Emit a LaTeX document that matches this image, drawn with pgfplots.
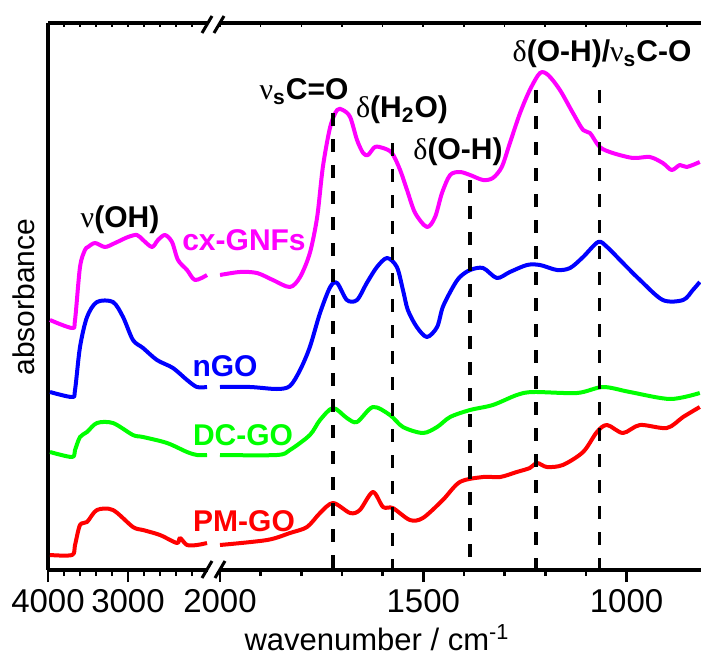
\documentclass[border=0pt]{standalone}
\usepackage{fontspec}
\setmainfont{Liberation Sans}
\newfontfamily\grk{Liberation Serif}
\usepackage{pgfplots}
\pgfplotsset{compat=1.18}

\newcommand{\gdl}{{\grk\mdseries δ}}
\newcommand{\gnu}{{\grk\mdseries ν}}

\definecolor{cmag}{RGB}{255,0,255}
\definecolor{cblu}{RGB}{0,0,255}
\definecolor{cgrn}{RGB}{0,255,0}
\definecolor{cred}{RGB}{255,0,0}

\pgfplotsset{
  ftir/.style={
    scale only axis, height=273.5pt, ymin=0, ymax=547, x dir=reverse,
    ytick=\empty,
    /pgf/number format/assume math mode=true,
    /pgf/number format/1000 sep={},
    ticklabel style={font=\fontsize{16.5}{19}\selectfont},
    axis line style={line width=1.6pt},
    every tick/.style={black, line width=1.3pt},
    major tick length=6pt, minor tick length=3pt,
    axis x line*=bottom, tick align=outside,
    every axis plot/.append style={line width=2pt, line join=round, smooth},
  },
  topticks/.style={
    scale only axis, height=273.5pt, ymin=0, ymax=547, x dir=reverse,
    ytick=\empty, xticklabels={}, axis line style={line width=1.6pt},
    axis x line*=top, y axis line style={draw=none},
    tick align=inside, major tick length=1.8pt,
    every tick/.style={black, line width=0.8pt},
  },
}

\begin{document}
\begin{tikzpicture}
% left part 4000-2000
\begin{axis}[ftir, name=L, at={(0,0)}, anchor=south west, width=80pt,
    xmin=2000, xmax=4000, axis y line*=left,
    xtick={4000,3000}, minor xtick={3800,3600,3400,3200,2800,2600,2400,2200}]
\addplot[cmag] coordinates {(3975,250) (3700,242) (3662,250) (3600,303) (3538,320)
  (3500,323) (3412,327) (3288,323) (3162,327) (3000,333) (2888,335) (2812,330)
  (2700,323) (2625,330) (2538,335) (2450,328) (2375,310) (2262,300) (2162,290) (2012,295)};
\addplot[cblu] coordinates {(3975,178) (3700,173) (3662,180) (3600,223) (3512,253)
  (3388,268) (3188,268) (3062,253) (2938,230) (2812,222) (2638,210) (2438,202)
  (2262,190) (2138,183) (2012,183)};
\addplot[cgrn] coordinates {(3975,118) (3700,113) (3662,120) (3600,133) (3512,138)
  (3388,147) (3188,147) (2938,135) (2812,133) (2512,127) (2262,118) (2138,115) (2012,115)};
\addplot[cred] coordinates {(3975,15) (3700,15) (3662,25) (3600,45) (3512,48)
  (3388,60) (3188,60) (2938,43) (2812,40) (2600,35) (2388,27) (2350,32) (2262,25)
  (2138,25) (2012,27)};
\end{axis}
\begin{axis}[topticks, at={(0,0)}, anchor=south west, width=80pt,
    xmin=2000, xmax=4000, xtick={4000,3800,...,2200}]
\end{axis}

% right part 2000-817
\begin{axis}[ftir, name=R, at={(86pt,0)}, anchor=south west, width=240.5pt,
    xmin=817, xmax=2000, y axis line style={draw=none},
    xtick={2000,1500,1000}, minor tick num=4]
\addplot[cmag] coordinates {(2000,295) (1951,298) (1909,297) (1870,290) (1828,283)
  (1803,293) (1779,317) (1761,353) (1747,403) (1729,443) (1712,460) (1698,460)
  (1680,453) (1663,430) (1648,417) (1636,415) (1619,423) (1599,422) (1577,417)
  (1557,400) (1540,380) (1520,357) (1491,343) (1471,353) (1454,377) (1434,395)
  (1410,398) (1385,395) (1353,390) (1329,392) (1307,403) (1287,427) (1262,457)
  (1238,480) (1213,497) (1193,495) (1164,480) (1132,457) (1107,440) (1090,437)
  (1066,423) (1034,417) (984,412) (943,413) (911,407) (889,400) (869,405) (852,403) (820,408)};
\addplot[cblu] coordinates {(2000,183) (1926,183) (1860,181) (1828,184) (1803,200)
  (1779,223) (1754,257) (1729,283) (1712,287) (1688,270) (1663,270) (1639,287)
  (1614,303) (1589,312) (1565,303) (1550,280) (1538,260) (1516,243) (1491,233)
  (1466,243) (1452,263) (1427,283) (1410,293) (1385,300) (1353,302) (1319,292)
  (1287,298) (1245,305) (1213,305) (1171,300) (1139,302) (1107,313) (1070,328)
  (1048,323) (1009,307) (967,290) (911,270) (861,270) (837,280) (820,288)};
\addplot[cgrn] coordinates {(2000,115) (1860,115) (1828,120) (1779,135) (1754,150)
  (1722,162) (1688,152) (1663,148) (1624,163) (1582,155) (1550,143) (1501,137)
  (1466,143) (1434,153) (1385,160) (1329,165) (1270,175) (1230,178) (1122,177)
  (1058,183) (992,178) (893,171) (820,177)};
\addplot[cred] coordinates {(2000,25) (1884,30) (1828,37) (1786,43) (1754,57)
  (1722,67) (1680,57) (1656,60) (1624,78) (1599,63) (1575,62) (1533,50) (1501,52)
  (1452,70) (1410,88) (1353,93) (1311,93) (1270,98) (1238,102) (1220,107) (1196,103)
  (1157,105) (1107,118) (1073,138) (1048,145) (1009,137) (967,145) (901,142)
  (861,153) (820,163)};
% band positions
\addplot[black, line width=1.6pt, sharp plot, dash pattern=on 6.5pt off 6.5pt] coordinates {(1722,457) (1722,0)};
\addplot[black, line width=1.6pt, sharp plot, dash pattern=on 6.5pt off 6.5pt] coordinates {(1575,427) (1575,0)};
\addplot[black, line width=1.6pt, sharp plot, dash pattern=on 6.5pt off 6.5pt] coordinates {(1385,390) (1385,0)};
\addplot[black, line width=1.6pt, sharp plot, dash pattern=on 6.5pt off 6.5pt] coordinates {(1223,480) (1223,0)};
\addplot[black, line width=1.6pt, sharp plot, dash pattern=on 6.5pt off 6.5pt] coordinates {(1066,480) (1066,0)};
\end{axis}
\begin{axis}[topticks, at={(86pt,0)}, anchor=south west, width=240.5pt,
    xmin=817, xmax=2000, xtick={900,1000,...,2000}]
\end{axis}

% labels, in pixel units of the reference
\begin{scope}[shift={(-24pt,285pt)}, x=0.5pt, y=-0.5pt]
  \draw[line width=1.5pt] (202,578) -- (212,561) (215,578) -- (225,561);
  \draw[line width=1.5pt] (202,33) -- (212,16) (214,33) -- (224,16);
  \begin{scope}[every node/.style={anchor=base, inner sep=0pt, font=\bfseries\fontsize{15}{18}\selectfont}]
    \node at (120,227) {\gnu(OH)};
    \node[text=cmag] at (244,250) {cx-GNFs};
    \node[text=cblu] at (225,376) {nGO};
    \node[text=cgrn] at (243,445) {DC-GO};
    \node[text=cred] at (244,531) {PM-GO};
    \node at (304,100) {\gnu\textsubscript{s}C=O};
    \node at (402,118) {\gdl(H\textsubscript{2}O)};
    \node at (458,160) {\gdl(O-H)};
    \node at (602,62) {\gdl(O-H)/\gnu\textsubscript{s}C-O};
  \end{scope}
  \node[anchor=base, inner sep=0pt, font=\fontsize{15.5}{18}\selectfont] at (377,650) {wavenumber / cm\textsuperscript{-1}};
  \node[rotate=90, anchor=base, inner sep=0pt, font=\fontsize{15}{18}\selectfont] at (35,297) {absorbance};
  \pgfresetboundingbox
  \path (0,0) rectangle (701,654);
\end{scope}
\end{tikzpicture}
\end{document}
